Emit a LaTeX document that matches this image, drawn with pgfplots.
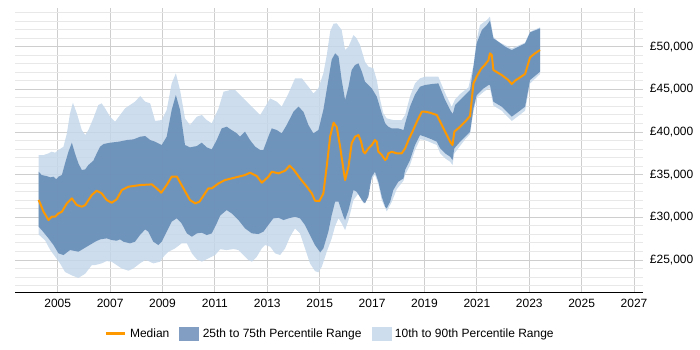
\documentclass[border=0pt]{standalone}
\usepackage{fontspec}
\setmainfont{Liberation Sans}
\usepackage{pgfplots}
\pgfplotsset{compat=1.18}
\usepgfplotslibrary{fillbetween}
\definecolor{darkband}{RGB}{96,135,179}
\definecolor{darkleg}{RGB}{130,159,195}
\definecolor{lightband}{RGB}{196,215,234}
\definecolor{lightleg}{RGB}{205,221,237}
\definecolor{medianc}{RGB}{255,153,0}
\definecolor{gridmajor}{RGB}{206,206,206}
\definecolor{gridminor}{RGB}{232,232,232}
\begin{document}
\begin{tikzpicture}
\path (0bp,0bp) rectangle (700bp,350bp);
\begin{axis}[
  at={(15bp,57.7bp)}, anchor=south west,
  scale only axis, width=627.7bp, height=284.3bp,
  xmin=2003.37, xmax=2027.33, ymin=21220, ymax=54540,
  scaled y ticks=false, scaled x ticks=false,
  axis x line*=bottom, axis y line*=right,
  y axis line style={draw=none},
  x axis line style={black, line width=1bp, -},
  major tick length=0pt, minor tick length=0pt,
  xtick={2005,2007,2009,2011,2013,2015,2017,2019,2021,2023,2025,2027},
  xticklabels={2005,2007,2009,2011,2013,2015,2017,2019,2021,2023,2025,2027},
  ytick={25000,30000,35000,40000,45000,50000},
  yticklabels={{£25,000},{£30,000},{£35,000},{£40,000},{£45,000},{£50,000}},
  minor ytick={22000,23000,24000,26000,27000,28000,29000,31000,32000,33000,34000,36000,37000,38000,39000,41000,42000,43000,44000,46000,47000,48000,49000,51000,52000,53000,54000},
  xmajorgrids, ymajorgrids, yminorgrids,
  major grid style={gridmajor, line width=1bp},
  minor grid style={gridminor, line width=1bp},
  ticklabel style={font=\fontsize{12bp}{14bp}\selectfont},
  xticklabel style={anchor=north, inner sep=0pt, yshift=-7bp},
  yticklabel style={anchor=west, inner sep=0pt, xshift=7bp},
  legend style={at={(0.502,-0.145)}, anchor=center, draw=none, fill=none,
    legend columns=3, font=\fontsize{12bp}{14bp}\selectfont,
    /tikz/every odd column/.append style={column sep=2bp},
    /tikz/every even column/.append style={column sep=8bp}},
]
\addplot[name path=p90, draw=none, forget plot] table {
2004.27 37306
2004.46 37306
2004.65 37502
2004.77 37697
2004.90 37580
2005.03 37892
2005.22 38283
2005.35 39846
2005.47 42190
2005.58 43440
2005.73 42190
2005.92 40237
2006.05 39651
2006.17 40237
2006.36 41604
2006.55 43167
2006.68 43362
2006.81 42776
2007.00 41799
2007.19 41213
2007.38 41994
2007.57 42776
2007.76 43167
2007.95 43557
2008.15 44222
2008.34 43557
2008.53 43362
2008.72 41300
2008.97 41409
2009.16 42581
2009.35 45700
2009.51 46880
2009.67 44930
2009.86 41600
2010.05 40823
2010.31 41800
2010.50 41995
2010.69 41409
2010.88 41018
2011.14 42780
2011.33 44730
2011.58 44925
2011.77 44925
2012.03 44144
2012.22 43557
2012.47 42776
2012.73 41995
2012.92 42972
2013.11 43948
2013.36 43557
2013.55 42972
2013.81 44534
2014.06 46293
2014.32 46293
2014.57 45316
2014.76 44534
2014.95 45121
2015.14 46879
2015.27 49000
2015.40 51800
2015.53 52700
2015.65 52739
2015.84 51958
2015.97 49614
2016.10 50004
2016.29 51372
2016.41 50981
2016.54 50200
2016.73 48246
2016.86 47660
2017.05 47465
2017.18 46097
2017.31 43753
2017.43 42190
2017.56 41604
2017.81 41409
2018.13 41409
2018.26 42000
2018.45 44200
2018.64 45706
2018.83 46292
2019.02 46488
2019.53 46488
2019.66 45511
2019.85 44143
2020.04 42971
2020.17 43831
2020.36 44456
2020.68 45237
2020.87 47855
2020.99 50786
2021.12 52544
2021.38 53130
2021.50 53521
2021.63 51176
2021.82 50590
2022.33 49809
2022.84 50473
2023.03 51762
2023.41 52270
};
\addplot[name path=p10, draw=none, forget plot] table {
2004.27 28000
2004.52 27300
2004.71 26200
2004.90 25400
2005.09 24600
2005.28 23600
2005.54 23200
2005.79 22900
2006.05 23400
2006.30 24400
2006.43 24414
2006.68 24610
2006.87 24883
2007.06 24805
2007.25 24414
2007.44 24024
2007.70 23750
2007.89 24024
2008.14 24610
2008.34 25000
2008.46 24883
2008.65 24610
2008.91 24805
2009.04 25391
2009.23 25977
2009.48 26368
2009.73 26954
2009.93 26954
2010.12 25782
2010.31 25079
2010.50 24805
2010.75 25196
2011.01 25586
2011.20 26268
2011.45 26173
2011.71 26290
2011.90 26173
2012.09 25587
2012.28 25000
2012.41 24805
2012.60 25391
2012.79 26368
2012.92 26758
2013.11 26563
2013.30 25782
2013.49 25587
2013.68 26368
2013.87 27735
2014.06 28712
2014.25 28126
2014.44 26368
2014.63 24610
2014.82 23711
2014.95 23555
2015.08 24219
2015.27 25977
2015.46 27540
2015.59 29000
2015.72 29900
2015.84 29300
2015.97 28516
2016.10 29688
2016.29 32032
2016.48 32813
2016.67 31641
2016.80 32227
2016.92 34181
2017.11 35000
2017.24 33900
2017.37 32000
2017.56 30700
2017.75 31800
2017.94 33300
2018.20 34300
2018.26 34994
2018.45 36134
2018.64 37892
2018.83 39143
2019.02 39065
2019.47 38478
2019.60 37501
2019.79 36915
2019.98 36525
2020.07 36134
2020.14 37501
2020.55 39143
2020.74 39767
2020.87 42385
2020.99 44000
2021.25 44700
2021.44 45100
2021.50 45100
2021.63 43100
2021.95 42500
2022.33 41300
2022.59 41900
2022.84 42500
2023.03 45700
2023.41 46800
};
\addplot[name path=p75, draw=none, forget plot] table {
2004.27 35353
2004.39 34962
2004.58 34845
2004.71 34689
2004.84 34767
2004.94 34454
2005.03 34767
2005.16 34962
2005.28 36330
2005.41 37697
2005.54 38752
2005.66 37502
2005.79 36330
2005.92 35548
2006.05 35626
2006.17 36134
2006.36 36642
2006.49 37502
2006.62 38283
2006.75 38596
2007.00 38752
2007.32 38869
2007.64 39065
2007.89 39143
2008.15 39455
2008.34 39533
2008.53 39065
2008.72 38869
2008.97 38479
2009.16 39456
2009.35 42580
2009.51 44339
2009.67 42580
2009.86 38479
2010.05 38205
2010.31 38361
2010.50 38752
2010.69 38205
2010.88 37971
2011.07 39065
2011.26 40432
2011.45 40628
2011.64 40237
2011.84 39846
2011.96 39455
2012.15 40041
2012.34 39065
2012.54 38283
2012.73 37893
2012.85 37893
2013.04 39455
2013.17 40432
2013.36 40237
2013.55 39846
2013.74 40823
2014.00 42385
2014.19 42972
2014.38 42385
2014.57 40823
2014.76 39846
2014.95 40237
2015.14 42580
2015.33 46097
2015.46 48500
2015.59 49223
2015.72 48832
2015.84 46097
2015.97 43753
2016.10 45316
2016.22 47269
2016.35 47855
2016.48 48051
2016.61 47074
2016.73 45902
2016.86 45511
2016.99 45121
2017.18 44144
2017.37 42190
2017.50 41018
2017.62 40627
2017.75 40432
2018.00 40432
2018.20 40237
2018.26 41000
2018.45 43000
2018.64 44400
2018.83 45315
2019.02 45511
2019.28 45628
2019.53 45706
2019.66 44729
2019.79 43752
2019.98 42580
2020.08 42112
2020.17 43167
2020.36 43752
2020.55 44339
2020.74 44925
2020.87 47660
2020.99 50395
2021.19 51958
2021.38 52544
2021.50 53052
2021.63 50981
2021.82 50590
2022.08 50004
2022.33 49614
2022.84 50395
2023.03 51684
2023.41 52153
};
\addplot[name path=p25, draw=none, forget plot] table {
2004.27 28906
2004.39 28515
2004.65 27538
2004.84 26757
2005.03 25780
2005.22 25585
2005.47 26171
2005.79 25976
2006.11 26562
2006.43 27149
2006.62 27423
2006.87 27540
2007.06 27345
2007.25 27267
2007.38 27423
2007.51 27149
2007.76 26954
2007.95 27149
2008.14 27931
2008.34 28595
2008.46 28321
2008.65 27149
2008.84 26759
2008.97 27149
2009.16 28321
2009.35 29493
2009.54 29884
2009.73 29298
2009.93 28126
2010.12 27735
2010.31 28126
2010.50 28204
2010.69 27931
2010.88 28126
2011.07 29298
2011.20 30200
2011.45 30861
2011.64 30470
2011.90 29689
2012.15 28712
2012.41 28126
2012.66 28048
2012.85 28321
2013.04 29103
2013.23 29884
2013.43 29962
2013.62 29689
2013.81 29884
2014.06 30079
2014.25 29884
2014.44 29103
2014.63 27931
2014.82 26759
2015.02 25899
2015.14 26368
2015.33 28321
2015.46 30275
2015.59 31838
2015.72 31837
2015.91 30079
2015.97 29688
2016.10 30860
2016.29 33204
2016.41 33009
2016.61 32032
2016.73 31641
2016.86 32423
2016.99 34767
2017.11 35353
2017.24 34181
2017.37 32423
2017.50 31251
2017.56 31055
2017.69 31837
2017.81 33204
2018.00 34181
2018.20 34572
2018.26 35548
2018.45 36720
2018.64 38478
2018.83 39650
2019.02 39455
2019.28 39143
2019.47 38869
2019.60 38088
2019.79 37501
2019.98 37111
2020.07 36720
2020.14 38088
2020.36 38869
2020.55 39455
2020.74 40041
2020.87 42776
2020.99 44300
2021.25 45100
2021.44 45500
2021.50 45511
2021.63 43558
2021.95 42972
2022.33 41800
2022.59 42386
2022.84 42972
2023.03 46097
2023.41 47074
};
\addplot[lightband, fill opacity=0.85, draw=none, forget plot] fill between[of=p90 and p10];
\addplot[darkband, fill opacity=0.85, draw=none, forget plot] fill between[of=p75 and p25];
\addplot[medianc, line width=2bp, line join=round, forget plot] table {
2004.27 32032
2004.33 31641
2004.46 30665
2004.65 29688
2004.77 30079
2004.90 30079
2005.03 30470
2005.16 30665
2005.35 31641
2005.54 32227
2005.73 31446
2005.92 31251
2006.05 31446
2006.30 32618
2006.49 33126
2006.68 32813
2006.87 32032
2007.06 31720
2007.25 32110
2007.45 33204
2007.70 33595
2008.15 33790
2008.59 33868
2008.78 33400
2008.95 32891
2009.16 33790
2009.35 34767
2009.55 34767
2009.80 33400
2010.05 32032
2010.25 31641
2010.41 31837
2010.75 33400
2010.88 33400
2011.14 33986
2011.39 34376
2011.64 34572
2011.90 34767
2012.15 34962
2012.34 35235
2012.60 34845
2012.79 34064
2013.04 34767
2013.17 35353
2013.43 35158
2013.68 35470
2013.85 36056
2014.00 35626
2014.25 34572
2014.51 33595
2014.70 32813
2014.82 31954
2014.99 31915
2015.14 32813
2015.27 36000
2015.40 39500
2015.53 41100
2015.65 40600
2015.78 38283
2015.91 35548
2015.97 34376
2016.10 35939
2016.22 38674
2016.35 39455
2016.48 39651
2016.58 38869
2016.67 37697
2016.73 37502
2016.86 38088
2016.99 38479
2017.11 39065
2017.18 38869
2017.24 37697
2017.37 37306
2017.50 36720
2017.56 36916
2017.62 37502
2017.75 37697
2017.94 37502
2018.13 37502
2018.26 38088
2018.39 39065
2018.54 40041
2018.71 41213
2018.90 42385
2019.02 42385
2019.21 42268
2019.47 41994
2019.60 41213
2019.79 40041
2019.98 38869
2020.07 38478
2020.14 40041
2020.36 40627
2020.55 41213
2020.74 41877
2020.87 45706
2020.99 46488
2021.16 47400
2021.31 47900
2021.44 48400
2021.50 49223
2021.57 49027
2021.63 47269
2021.95 46683
2022.20 46097
2022.33 45628
2022.46 46019
2022.84 46800
2023.03 48754
2023.22 49223
2023.41 49614
};
\addlegendimage{legend image code/.code={\draw[medianc, line width=2.5bp] (0bp,0bp) -- (19bp,0bp);}}
\addlegendentry{Median}
\addlegendimage{legend image code/.code={\fill[darkleg] (0bp,-6.2bp) rectangle (19bp,6.2bp);}}
\addlegendentry{25th to 75th Percentile Range}
\addlegendimage{legend image code/.code={\fill[lightleg] (0bp,-6.2bp) rectangle (19bp,6.2bp);}}
\addlegendentry{10th to 90th Percentile Range}
\end{axis}
\end{tikzpicture}
\end{document}
